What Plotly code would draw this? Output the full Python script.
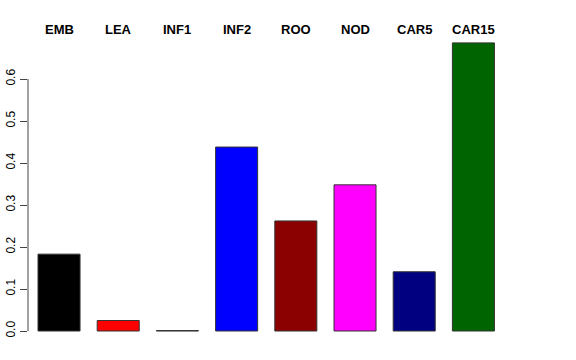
import plotly.graph_objects as go

categories = ["EMB", "LEA", "INF1", "INF2", "ROO", "NOD", "CAR5", "CAR15"]
values = [0.183, 0.025, 0.001, 0.438, 0.262, 0.348, 0.141, 0.686]
colors = ["black", "red", "#00FF00", "blue", "#8B0000", "magenta", "#000080", "#006400"]
y_ticks = [0.0, 0.1, 0.2, 0.3, 0.4, 0.5, 0.6]

xpos = list(range(len(categories)))

fig = go.Figure()
fig.add_trace(go.Bar(
    x=xpos, y=values, width=0.71,
    marker=dict(color=colors, line=dict(color="#333333", width=1)),
    hoverinfo="skip",
))

# axis line only spanning tick range (R style)
fig.add_shape(type="line", xref="paper", yref="y", x0=0, x1=0,
              y0=y_ticks[0], y1=y_ticks[-1], line=dict(color="#444444", width=1))

for c, x in zip(categories, xpos):
    fig.add_annotation(x=x, y=0.718, xref="x", yref="y", text="<b>%s</b>" % c,
                       showarrow=False, font=dict(family="Liberation Sans, Arial", size=13, color="black"),
                       xanchor="center", yanchor="middle")

fig.update_layout(
    width=576, height=360,
    margin=dict(l=28, r=28, t=20, b=18, autoexpand=False),
    paper_bgcolor="white", plot_bgcolor="white",
    showlegend=False,
    font=dict(family="Liberation Sans, Arial", size=11, color="black"),
    xaxis=dict(range=[-0.524, 8.26], showticklabels=False, showgrid=False,
               zeroline=False, showline=False, ticks="", automargin=False),
    yaxis=dict(range=[-0.0262, 0.7405], tickvals=y_ticks,
               ticktext=["%.1f" % v for v in y_ticks], tickangle=-90,
               ticks="outside", ticklen=7, tickcolor="#444444",
               showgrid=False, zeroline=False, showline=False, automargin=False,
               tickfont=dict(size=12)),
)

fig.write_html("out.html", config={"displayModeBar": False, "staticPlot": True},
               post_script="document.body.style.margin='0';")
